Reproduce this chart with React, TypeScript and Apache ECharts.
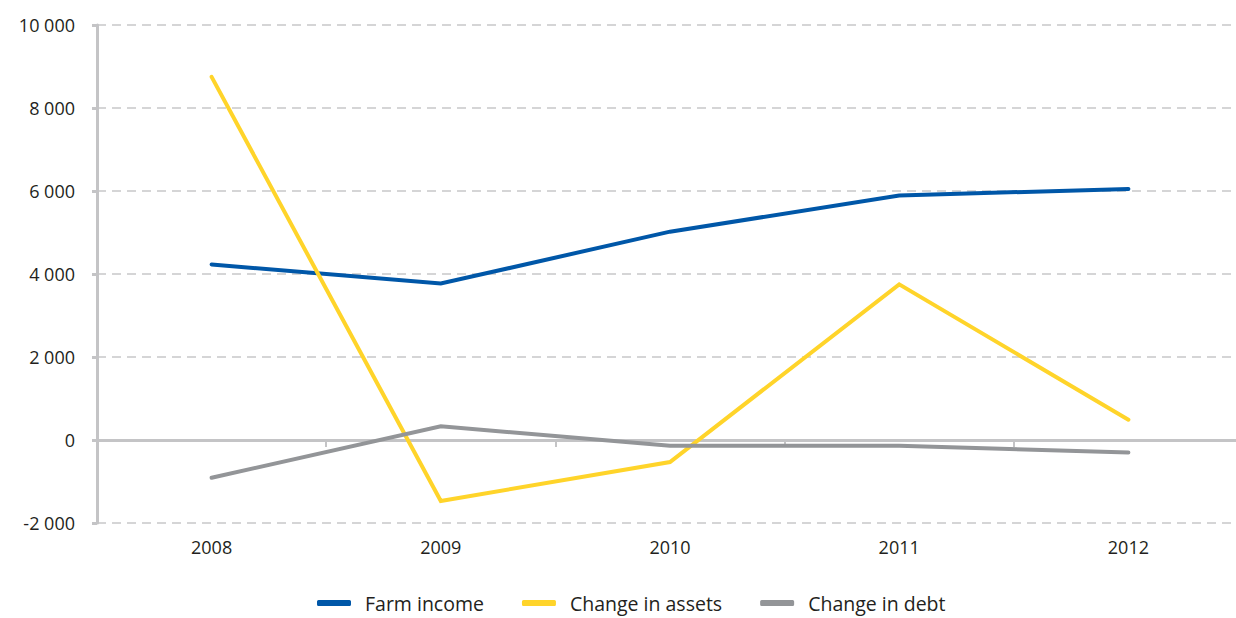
import React, { useEffect, useRef } from "react";
import * as echarts from "echarts";

const years = ["2008", "2009", "2010", "2011", "2012"];
const farmIncome = [4230, 3770, 5020, 5890, 6050];
const changeInAssets = [8750, -1470, -530, 3750, 490];
const changeInDebt = [-910, 330, -140, -140, -300];
const yTicks = { min: -2000, max: 10000, interval: 2000 };

const FONT = "'Open Sans', 'Noto Sans', sans-serif";
const AXIS_GRAY = "#c4c4c6";

function fmt(v: number) {
  const s = Math.abs(v).toString().replace(/\B(?=(\d{3})+(?!\d))/g, " ");
  return (v < 0 ? "-" : "") + s;
}

export default function App() {
  const ref = useRef<HTMLDivElement>(null);
  useEffect(() => {
    if (!ref.current) return;
    const chart = echarts.init(ref.current, undefined, { renderer: "svg" });
    const mk = (name: string, data: number[], color: string) => ({
      name,
      type: "line",
      data,
      xAxisIndex: 0,
      yAxisIndex: 0,
      symbol: "none",
      lineStyle: { color, width: 4, cap: "round", join: "miter" },
      itemStyle: { color },
    });
    chart.setOption({
      animation: false,
      grid: { left: 97, right: 2, top: 25, bottom: 95, containLabel: false },
      legend: {
        bottom: 0,
        left: 312,
        icon: "roundRect",
        itemWidth: 34,
        itemHeight: 6,
        itemGap: 38,
        textStyle: { fontFamily: FONT, fontSize: 19.5, color: "#231f20", padding: [0, 0, 0, 9] },
        data: ["Farm income", "Change in assets", "Change in debt"],
      },
      xAxis: [
        {
          type: "category",
          position: "bottom",
          data: years,
          boundaryGap: true,
          axisLine: { show: false, onZero: false },
          axisTick: { show: false },
          axisLabel: { margin: 15, fontFamily: FONT, fontSize: 18, color: "#231f20" },
          splitLine: { show: false },
        },
        {
          type: "category",
          position: "top",
          data: years,
          boundaryGap: true,
          axisLine: { show: true, onZero: true, lineStyle: { color: AXIS_GRAY, width: 3 } },
          axisTick: { show: true, inside: true, length: 7, lineStyle: { color: AXIS_GRAY, width: 2 } },
          axisLabel: { show: false },
          splitLine: { show: false },
        },
      ],
      yAxis: {
        type: "value",
        min: yTicks.min,
        max: yTicks.max,
        interval: yTicks.interval,
        axisLine: { show: true, lineStyle: { color: AXIS_GRAY, width: 3 } },
        axisTick: { show: true, length: 5, lineStyle: { color: AXIS_GRAY, width: 3 } },
        axisLabel: {
          margin: 22,
          fontFamily: FONT,
          fontSize: 18,
          color: "#231f20",
          formatter: (v: number) => fmt(v),
        },
        splitLine: { show: true, lineStyle: { color: "#c8c8c9", width: 1.5, type: [9, 6] } },
      },
      series: [
        mk("Farm income", farmIncome, "#0057a8"),
        mk("Change in assets", changeInAssets, "#ffd42a"),
        mk("Change in debt", changeInDebt, "#939598"),
      ],
    });
    return () => chart.dispose();
  }, []);
  return (
    <div style={{ position: "fixed", left: 0, top: 0, width: 1236, height: 618, overflow: "hidden", background: "#fff" }}>
      <div ref={ref} style={{ width: 1245, height: 618 }} />
    </div>
  );
}
